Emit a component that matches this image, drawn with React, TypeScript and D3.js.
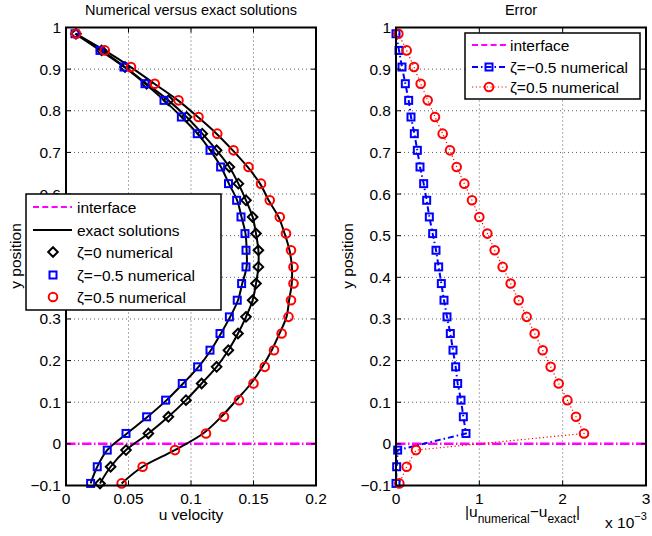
import React from "react";
import * as d3 from "d3";

// y positions of the grid points
const yPos = [0.985, 0.945, 0.905, 0.865, 0.825, 0.785, 0.745, 0.705, 0.665, 0.625, 0.585, 0.545, 0.505, 0.465, 0.425, 0.385, 0.345, 0.305, 0.265, 0.225, 0.185, 0.145, 0.105, 0.065, 0.025, -0.015, -0.055, -0.095];

// numerical u velocities
const numZero = [0.008, 0.0285, 0.0472, 0.0645, 0.0819, 0.0965, 0.109, 0.1205, 0.1307, 0.1379, 0.144, 0.1493, 0.152, 0.1539, 0.1539, 0.152, 0.1493, 0.144, 0.1376, 0.1299, 0.1205, 0.1085, 0.096, 0.0819, 0.0659, 0.048, 0.0357, 0.0272];
const numNeg = [0.0072, 0.0272, 0.0464, 0.0632, 0.0784, 0.0923, 0.105, 0.1152, 0.1237, 0.130, 0.1365, 0.140, 0.1432, 0.144, 0.144, 0.1405, 0.137, 0.1307, 0.1232, 0.1152, 0.1053, 0.093, 0.0797, 0.0645, 0.048, 0.033, 0.025, 0.0197];
const numPos = [0.008, 0.031, 0.052, 0.071, 0.090, 0.106, 0.121, 0.134, 0.146, 0.156, 0.163, 0.171, 0.176, 0.180, 0.182, 0.182, 0.180, 0.178, 0.1725, 0.1664, 0.159, 0.150, 0.1384, 0.1264, 0.112, 0.0872, 0.0613, 0.0445];

// exact solutions
const exactZero = [0.008, 0.0285, 0.0472, 0.0645, 0.0819, 0.0965, 0.109, 0.1205, 0.1307, 0.1379, 0.144, 0.1493, 0.152, 0.1539, 0.1539, 0.152, 0.1493, 0.144, 0.1376, 0.1299, 0.1205, 0.1085, 0.096, 0.0819, 0.0659, 0.048, 0.0357, 0.0272];
const exactNeg = [0.0072, 0.0272, 0.0465, 0.0633, 0.0786, 0.0925, 0.1052, 0.1155, 0.124, 0.1303, 0.1369, 0.1404, 0.1436, 0.1445, 0.1445, 0.141, 0.1376, 0.1313, 0.1239, 0.1159, 0.106, 0.0937, 0.0805, 0.0653, 0.0488, 0.033, 0.025, 0.0197];
const exactPos = [0.008, 0.0309, 0.0518, 0.0707, 0.0896, 0.1055, 0.1204, 0.1334, 0.1453, 0.1552, 0.1621, 0.170, 0.1749, 0.1788, 0.1807, 0.1806, 0.1785, 0.1764, 0.1708, 0.1646, 0.1571, 0.148, 0.1363, 0.1242, 0.1097, 0.087, 0.0612, 0.0445];

// errors (x 1e-3)
const errNeg = [0.0, 0.036, 0.072, 0.112, 0.152, 0.18, 0.22, 0.256, 0.288, 0.332, 0.368, 0.4, 0.44, 0.48, 0.512, 0.544, 0.576, 0.612, 0.652, 0.684, 0.716, 0.74, 0.78, 0.808, 0.84, 0.02, 0.008, 0.0];
const errPos = [0.028, 0.128, 0.216, 0.296, 0.38, 0.468, 0.56, 0.648, 0.728, 0.82, 0.912, 1.0, 1.096, 1.184, 1.28, 1.376, 1.472, 1.568, 1.664, 1.76, 1.856, 1.952, 2.056, 2.16, 2.256, 0.24, 0.128, 0.04];

const yTicks = [-0.1, 0, 0.1, 0.2, 0.3, 0.4, 0.5, 0.6, 0.7, 0.8, 0.9, 1];
const yTickLabels = ["\u22120.1", "0", "0.1", "0.2", "0.3", "0.4", "0.5", "0.6", "0.7", "0.8", "0.9", "1"];
const xTicksL = [0, 0.05, 0.1, 0.15, 0.2];
const xTickLabelsL = ["0", "0.05", "0.1", "0.15", "0.2"];
const xTicksR = [0, 1, 2, 3];
const xTickLabelsR = ["0", "1", "2", "3"];

const FONT = "'Liberation Sans', Arial, Helvetica, sans-serif";
const FS = 15.5;
const BLUE = "#0000ff";
const RED = "#ff0000";
const MAG = "#ff00ff";

const y = d3.scaleLinear().domain([-0.1, 1]).range([485.5, 27.5]);
const xL = d3.scaleLinear().domain([0, 0.2]).range([66, 316]);
const xR = d3.scaleLinear().domain([0, 3]).range([396, 646]);

function Square({ cx, cy, color }: { cx: number; cy: number; color: string }) {
  const s = 7;
  return <rect x={cx - s / 2} y={cy - s / 2} width={s} height={s} fill="none" stroke={color} strokeWidth={2} />;
}
function Circle({ cx, cy, color }: { cx: number; cy: number; color: string }) {
  return <circle cx={cx} cy={cy} r={4.3} fill="none" stroke={color} strokeWidth={2} />;
}
function Diamond({ cx, cy }: { cx: number; cy: number }) {
  const s = 4.8;
  return <path d={`M${cx},${cy - s}L${cx + s},${cy}L${cx},${cy + s}L${cx - s},${cy}Z`} fill="none" stroke="#000" strokeWidth={2} />;
}

function Frame({ x, xticks, xlabels }: { x: d3.ScaleLinear<number, number>; xticks: number[]; xlabels: string[] }) {
  const [x0, x1] = x.range();
  const [y0, y1] = [y(-0.1), y(1)];
  return (
    <g>
      {xticks.map((t, i) => (
        <g key={"xt" + i}>
          <line x1={x(t)} x2={x(t)} y1={y0} y2={y0 - 5} stroke="#000" strokeWidth={1} />
          <line x1={x(t)} x2={x(t)} y1={y1} y2={y1 + 5} stroke="#000" strokeWidth={1} />
          <text x={x(t)} y={y0 + 18} textAnchor="middle" fontSize={FS} fontFamily={FONT}>{xlabels[i]}</text>
        </g>
      ))}
      {yTicks.map((t, i) => (
        <g key={"yt" + i}>
          <line x1={x0} x2={x0 + 5} y1={y(t)} y2={y(t)} stroke="#000" strokeWidth={1} />
          <line x1={x1} x2={x1 - 5} y1={y(t)} y2={y(t)} stroke="#000" strokeWidth={1} />
          <text x={x0 - 5} y={y(t) + 5.5} textAnchor="end" fontSize={FS} fontFamily={FONT}>{yTickLabels[i]}</text>
        </g>
      ))}
      <rect x={x0} y={y1} width={x1 - x0} height={y0 - y1} fill="none" stroke="#000" strokeWidth={2} />
    </g>
  );
}

function Grid({ x, xticks }: { x: d3.ScaleLinear<number, number>; xticks: number[] }) {
  const [x0, x1] = x.range();
  return (
    <g stroke="#333" strokeWidth={0.8} strokeDasharray="1,3">
      {xticks.slice(1, -1).map((t, i) => (
        <line key={"gx" + i} x1={x(t)} x2={x(t)} y1={y(-0.1)} y2={y(1)} />
      ))}
      {yTicks.slice(1, -1).map((t, i) => (
        <line key={"gy" + i} x1={x0} x2={x1} y1={y(t)} y2={y(t)} />
      ))}
    </g>
  );
}

export default function App() {
  const exactLine = d3
    .line<number>()
    .x((d) => xL(d))
    .y((_, i) => y(yPos[i]))
    .curve(d3.curveCatmullRom.alpha(0.5));
  const errLine = d3
    .line<number>()
    .x((d) => xR(d))
    .y((_, i) => y(yPos[i]));

  return (
    <svg width={652} height={536} style={{ position: "absolute", left: 0, top: 0, background: "#fff" }}>
      <rect width={652} height={536} fill="#fff" />
      {/* LEFT PANEL */}
      <text x={191} y={15} textAnchor="middle" fontSize={14.5} fontFamily={FONT}>Numerical versus exact solutions</text>
      <Grid x={xL} xticks={xTicksL} />
      <line x1={xL(0)} x2={xL(0.2)} y1={y(0)} y2={y(0)} stroke={MAG} strokeWidth={2.5} strokeDasharray="9.5,2.5,1.5,2.5" />
      {[exactZero, exactNeg, exactPos].map((arr, k) => (
        <path key={"ex" + k} d={exactLine(arr) || ""} fill="none" stroke="#000" strokeWidth={2} />
      ))}
      {numZero.map((v, i) => <Diamond key={"d" + i} cx={xL(v)} cy={y(yPos[i])} />)}
      {numNeg.map((v, i) => <Square key={"s" + i} cx={xL(v)} cy={y(yPos[i])} color={BLUE} />)}
      {numPos.map((v, i) => <Circle key={"c" + i} cx={xL(v)} cy={y(yPos[i])} color={RED} />)}
      <Frame x={xL} xticks={xTicksL} xlabels={xTickLabelsL} />
      <text x={191} y={520} textAnchor="middle" fontSize={FS} fontFamily={FONT}>u velocity</text>
      <text transform="translate(21,256) rotate(-90)" textAnchor="middle" fontSize={FS} fontFamily={FONT}>y position</text>

      {/* left legend */}
      <g>
        <rect x={26} y={194} width={195} height={116} fill="#fff" stroke="#000" strokeWidth={1.5} />
        <line x1={33} x2={72} y1={207} y2={207} stroke={MAG} strokeWidth={2} strokeDasharray="6,3.3" />
        <text x={77} y={212.5} fontSize={FS} fontFamily={FONT}>interface</text>
        <line x1={33} x2={72} y1={230} y2={230} stroke="#000" strokeWidth={2} />
        <text x={77} y={235.5} fontSize={FS} fontFamily={FONT}>exact solutions</text>
        <Diamond cx={53} cy={252} />
        <text x={77} y={257.5} fontSize={FS} fontFamily={FONT}>ζ=0 numerical</text>
        <Square cx={53} cy={275} color={BLUE} />
        <text x={77} y={280.5} fontSize={FS} fontFamily={FONT}>ζ=−0.5 numerical</text>
        <Circle cx={53} cy={297} color={RED} />
        <text x={77} y={302.5} fontSize={FS} fontFamily={FONT}>ζ=0.5 numerical</text>
      </g>

      {/* RIGHT PANEL */}
      <text x={521} y={15} textAnchor="middle" fontSize={14.5} fontFamily={FONT}>Error</text>
      <Grid x={xR} xticks={xTicksR} />
      <line x1={xR(0)} x2={xR(3)} y1={y(0)} y2={y(0)} stroke={MAG} strokeWidth={2.5} strokeDasharray="9.5,2.5,1.5,2.5" />
      <path d={errLine(errNeg) || ""} fill="none" stroke={BLUE} strokeWidth={2} strokeDasharray="6,3,1.5,3" />
      <path d={errLine(errPos) || ""} fill="none" stroke={RED} strokeWidth={1.2} strokeDasharray="1.2,2.5" />
      {errNeg.map((v, i) => <Square key={"es" + i} cx={xR(v)} cy={y(yPos[i])} color={BLUE} />)}
      {errPos.map((v, i) => <Circle key={"ec" + i} cx={xR(v)} cy={y(yPos[i])} color={RED} />)}
      <Frame x={xR} xticks={xTicksR} xlabels={xTickLabelsR} />
      <text transform="translate(353,256) rotate(-90)" textAnchor="middle" fontSize={FS} fontFamily={FONT}>y position</text>
      <text x={465} y={517} fontSize={FS} fontFamily={FONT}>
        |u<tspan fontSize={12} dy={6}>numerical</tspan><tspan dy={-6}>−u</tspan><tspan fontSize={12} dy={6}>exact</tspan><tspan dy={-6}>|</tspan>
      </text>
      <text x={605} y={528} fontSize={FS} fontFamily={FONT}>
        x 10<tspan fontSize={11} dy={-8}>−3</tspan>
      </text>

      {/* right legend */}
      <g>
        <rect x={465} y={33} width={175} height={66} fill="#fff" stroke="#000" strokeWidth={1.5} />
        <line x1={472} x2={507} y1={45} y2={45} stroke={MAG} strokeWidth={2} strokeDasharray="6,3.3" />
        <text x={510} y={50.5} fontSize={FS} fontFamily={FONT}>interface</text>
        <line x1={472} x2={507} y1={67} y2={67} stroke={BLUE} strokeWidth={2} strokeDasharray="6,3,1.5,3" />
        <Square cx={489} cy={67} color={BLUE} />
        <text x={510} y={72.5} fontSize={FS} fontFamily={FONT}>ζ=−0.5 numerical</text>
        <line x1={472} x2={507} y1={87} y2={87} stroke={RED} strokeWidth={1.2} strokeDasharray="1.2,2.5" />
        <Circle cx={489} cy={87} color={RED} />
        <text x={510} y={92.5} fontSize={FS} fontFamily={FONT}>ζ=0.5 numerical</text>
      </g>
    </svg>
  );
}
